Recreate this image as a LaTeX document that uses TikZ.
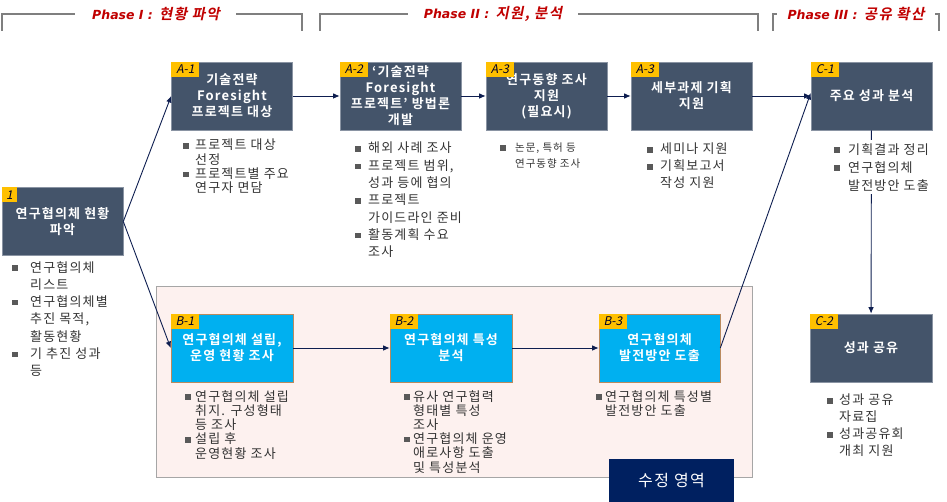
\documentclass[tikz,border=0pt]{standalone}
\usepackage{fontspec}
\setmainfont{Noto Sans CJK KR}[BoldFont={Noto Sans CJK KR Bold}, LetterSpace=9]
\newfontfamily\phasefont{Noto Sans CJK KR Bold}[FakeSlant=0.2, LetterSpace=9]
\newfontfamily\phlat{DejaVu Sans}
\newfontfamily\tagfont{Noto Sans CJK KR}[FakeSlant=0.2]
\usetikzlibrary{arrows.meta}
\definecolor{boxdark}{HTML}{44546A}
\definecolor{boxcyan}{HTML}{00B0F0}
\definecolor{tagyel}{HTML}{FFC000}
\definecolor{phred}{HTML}{C00000}
\definecolor{brkgray}{HTML}{7F7F7F}
\definecolor{arrnavy}{HTML}{0E1E50}
\definecolor{regpink}{HTML}{FDF1EF}
\definecolor{reggray}{HTML}{A6A6A6}
\definecolor{sjnavy}{HTML}{002060}
\definecolor{txtc}{HTML}{333333}
\definecolor{bulc}{HTML}{595959}
\definecolor{cyanedge}{HTML}{B98A5E}
\definecolor{darkedge}{HTML}{8A94A3}
\newcommand\bi[2][13pt]{\makebox[#1][l]{\textcolor{bulc}{\rule[1.2pt]{5.5pt}{5.5pt}}}#2}
\newcommand\ci[2][13pt]{\hspace*{#1}#2}
\newcommand\phtxt[2]{{\phlat\bfseries\itshape\fontsize{12.5}{14}\selectfont #1}\ \ {\phasefont\fontsize{14.5}{15}\selectfont #2}}
\tikzset{
  darkbox/.style={fill=boxdark, draw=darkedge, line width=0.6pt, text=white, font=\bfseries\fontsize{13}{16}\selectfont, align=center, inner sep=0pt, minimum width=121pt, minimum height=68pt},
  cyanbox/.style={darkbox, fill=boxcyan, draw=cyanedge},
  tagbox/.style={fill=tagyel, text=black!85!blue, font=\tagfont\fontsize{12}{12}\selectfont, inner sep=0pt, minimum width=28pt, minimum height=15pt, anchor=north west},
  blist/.style={anchor=north west, inner sep=0pt, align=left, text=txtc},
  arr/.style={draw=arrnavy, line width=0.9pt, -{Latex[length=6.5pt,width=5.5pt]}},
  brk/.style={draw=brkgray, line width=1.5pt},
  phase/.style={text=phred, inner sep=0pt},
}
\begin{document}
\begin{tikzpicture}[x=1pt,y=-1pt]
\useasboundingbox (0,0) rectangle (947,502);
% phase headers
\draw[brk] (2,31) -- (2,14) -- (75,14);
\draw[brk] (236,14) -- (302,14) -- (302,31);
\node[phase] (ph1) at (156,14) {\phtxt{Phase I :}{현황 파악}};
\draw[brk] (320,31) -- (320,14) -- (408,14);
\draw[brk] (578,14) -- (758,14) -- (758,31);
\node[phase] (ph2) at (493,14) {\phtxt{Phase II :}{지원, 분석}};
\draw[brk] (773,31) -- (773,14) -- (777,14);
\draw[brk] (935,14) -- (939,14) -- (939,31);
\node[phase] (ph3) at (856,14) {\phtxt{Phase III :}{공유 확산}};
% region
\draw[fill=regpink, draw=reggray, line width=0.8pt] (156,286) rectangle (752,477);
% boxes
\node[darkbox] (b1) at (62.5,221.5) {연구협의체 현황\\파악};
\node[darkbox] (a1) at (232,96) {기술전략\\Foresight\\프로젝트 대상};
\node[darkbox] (a2) at (400.5,96) {‘기술전략\\Foresight\\프로젝트’ 방법론\\개발};
\node[darkbox] (a3) at (546.5,96) {연구동향 조사\\지원\\(필요시)};
\node[darkbox] (a4) at (691.5,96) {세부과제 기획\\지원};
\node[darkbox] (c1) at (871.5,96) {주요 성과 분석};
\node[darkbox, minimum width=122pt] (c2) at (871,348) {성과 공유};
\node[cyanbox, minimum width=122pt] (bb1) at (232,348) {연구협의체 설립,\\운영 현황 조사};
\node[cyanbox, minimum width=122pt] (bb2) at (451,348) {연구협의체 특성\\분석};
\node[cyanbox] (bb3) at (659.5,348) {연구협의체\\발전방안 도출};
% tags
\node[tagbox, minimum width=15pt] (t1) at (b1.north west) {1};
\node[tagbox] (ta1) at (a1.north west) {A-1};
\node[tagbox] (ta2) at (a2.north west) {A-2};
\node[tagbox] (ta3) at (a3.north west) {A-3};
\node[tagbox] (ta4) at (a4.north west) {A-3};
\node[tagbox] (tc1) at (c1.north west) {C-1};
\node[tagbox] (tc2) at (c2.north west) {C-2};
\node[tagbox] (tb1) at (bb1.north west) {B-1};
\node[tagbox] (tb2) at (bb2.north west) {B-2};
\node[tagbox] (tb3) at (bb3.north west) {B-3};
% connectors
\draw[arr] (b1.east) -- (a1.west);
\draw[arr] (b1.east) -- (bb1.west);
\draw[arr] (a1) -- (a2);
\draw[arr] (a2) -- (a3);
\draw[arr] (a3) -- (a4);
\draw[arr] (a4) -- (c1);
\draw[arr] (bb1) -- (bb2);
\draw[arr] (bb2) -- (bb3);
\draw[arr] (bb3.east) -- ([yshift=3pt]c1.west);
\draw[arr] (c1) -- (c2);
% bullet lists
\node[blist, font=\fontsize{13}{17.3}\selectfont] (l0) at (12,261)
 {\bi[18pt]{연구협의체}\\\ci[18pt]{리스트}\\\bi[18pt]{연구협의체별}\\\ci[18pt]{추진 목적,}\\\ci[18pt]{활동현황}\\\bi[18pt]{기 추진 성과}\\\ci[18pt]{등}};
\node[blist, font=\fontsize{13}{14.2}\selectfont] (la1) at (183,139)
 {\bi[12pt]{프로젝트 대상}\\\ci[12pt]{선정}\\\bi[12pt]{프로젝트별 주요}\\\ci[12pt]{연구자 면담}};
\node[blist, font=\fontsize{13}{17.3}\selectfont] (la2) at (355,142)
 {\bi{해외 사례 조사}\\\bi{프로젝트 범위,}\\\ci{성과 등에 협의}\\\bi{프로젝트}\\\ci{가이드라인 준비}\\\bi{활동계획 수요}\\\ci{조사}};
\node[blist, font=\fontsize{10.5}{16}\selectfont] (la3) at (500,143)
 {\bi[15pt]{논문, 특허 등}\\\ci[15pt]{연구동향 조사}};
\node[blist, font=\fontsize{13}{17}\selectfont] (la4) at (647,143)
 {\bi{세미나 지원}\\\bi{기획보고서}\\\ci{작성 지원}};
\node[blist, fill=white, inner sep=3pt, font=\fontsize{13}{18}\selectfont] (lc1) at (831,140)
 {\bi[14pt]{기획결과 정리}\\\bi[14pt]{연구협의체}\\\ci[14pt]{발전방안 도출}};
\node[blist, font=\fontsize{13}{14.3}\selectfont] (lb1) at (185,390)
 {\bi[10pt]{연구협의체 설립}\\\ci[10pt]{취지. 구성형태}\\\ci[10pt]{등 조사}\\\bi[10pt]{설립 후}\\\ci[10pt]{운영현황 조사}};
\node[blist, font=\fontsize{13}{14.2}\selectfont] (lb2) at (404,390)
 {\bi[9pt]{유사 연구협력}\\\ci[9pt]{형태별 특성}\\\ci[9pt]{조사}\\\bi[9pt]{연구협의체 운영}\\\ci[9pt]{애로사항 도출}\\\ci[9pt]{및 특성분석}};
\node[blist, font=\fontsize{13}{14}\selectfont] (lb3) at (596,390)
 {\bi[9pt]{연구협의체 특성별}\\\ci[9pt]{발전방안 도출}};
\node[blist, font=\fontsize{13}{17}\selectfont] (lc2) at (827,394)
 {\bi[12pt]{성과 공유}\\\ci[12pt]{자료집}\\\bi[12pt]{성과공유회}\\\ci[12pt]{개최 지원}};
% modification area label
\node[fill=sjnavy, text=white, font=\fontsize{16}{18}\selectfont, minimum width=125pt, minimum height=43pt, inner sep=0pt] (sj) at (671.5,480.5) {수정 영역};
\end{tikzpicture}
\end{document}
